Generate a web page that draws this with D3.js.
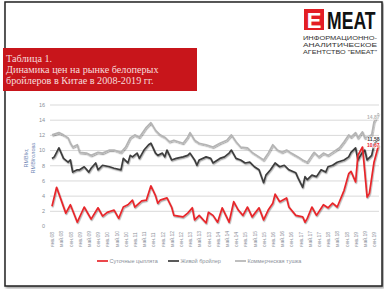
<!DOCTYPE html>
<html><head><meta charset="utf-8">
<script src="https://cdn.jsdelivr.net/npm/d3@7/dist/d3.min.js"></script>
<style>html,body{margin:0;padding:0;background:#fff;}svg{display:block;}</style>
</head><body>
<script>
// ---- data ----
const titleLines = ["Таблица 1.", "Динамика цен на рынке белоперых", "бройлеров в Китае в 2008-2019 гг."];
const seriesNames = ["Суточные цыплята", "Живой бройлер", "Коммерческая тушка"];
const yTicks = [0, 2, 4, 6, 8, 10, 12, 14, 16];
const monthNames = ["янв", "май", "сен"];
const years = ["08","09","10","11","12","13","14","15","16","17","18","19"];
const yLabel = ["RMB/кг,", "RMB/голова"];
// month index from Jan 2008
const chickMonths = [0,2,6,8,11,14,17,20,22,24,27,29,31,33,35,36,39,41,43,45,46,47,50,52,53,57,59,61,62,64,67,68,70,72,74,77,79,81,83,85,87,90,92,94,96,97,99,102,103,106,109,110,111,113,115,118,120,122,124,127,129,130,132,133,135,137,138,140,142];
const chickValues = [2.6,5.1,1.7,2.8,0.5,2.5,0.9,2.4,1.3,1.8,2.1,1.0,2.5,2.8,3.4,2.5,3.3,3.4,5.3,4.0,3.0,3.4,3.7,2.5,1.4,1.2,1.7,2.4,0.8,1.4,0.4,1.8,1.4,0.5,2.4,0.5,3.2,2.1,1.4,2.5,1.2,2.4,0.8,2.1,3.0,4.2,3.2,3.7,2.5,1.4,1.2,0.5,1.0,2.5,1.4,2.8,2.4,3.0,2.5,4.7,6.9,7.2,5.8,9.3,10.4,3.8,4.3,8.4,10.67];
const liveMonths = [0,1,3,5,7,8,9,11,12,14,16,17,19,20,22,25,27,30,31,33,34,35,37,38,40,42,43,45,46,48,49,50,52,54,57,59,60,62,63,64,67,69,70,73,75,77,78,80,82,84,86,88,90,92,93,95,97,99,101,103,106,107,109,110,111,113,115,117,119,120,122,124,127,129,130,132,133,135,136,137,139,140,142];
const liveValues = [8.9,9.1,10.3,8.9,8.4,8.7,7.1,7.4,7.4,7.8,7.1,7.6,8.3,7.4,8.0,7.8,7.6,7.4,8.9,8.3,9.3,9.1,9.6,8.9,10.0,10.7,10.9,9.6,9.3,9.6,9.1,10.0,8.7,8.9,9.1,9.3,9.6,8.7,8.0,8.7,9.1,8.9,8.3,8.9,9.1,9.6,10.0,8.9,8.7,8.3,8.4,7.8,7.4,5.7,6.7,7.4,8.3,7.8,8.0,7.4,7.0,6.3,5.1,6.5,6.1,6.7,6.5,7.4,7.1,7.8,8.0,8.4,8.7,9.1,9.7,10.3,8.7,9.7,10.0,8.7,9.3,10.7,11.58];
const carcMonths = [0,3,5,7,8,9,11,12,15,17,20,22,25,27,30,32,34,36,38,41,43,45,47,49,51,53,57,59,60,62,64,67,70,73,76,78,80,82,85,87,90,92,94,96,98,100,102,104,107,109,111,113,114,116,118,120,122,125,127,129,130,132,133,135,136,137,139,140,142];
const carcValues = [12.0,12.3,12.0,11.6,10.9,10.4,10.7,9.7,9.6,9.3,9.7,9.6,10.0,10.0,9.7,10.4,11.6,12.0,11.7,13.0,13.6,12.6,12.0,11.7,11.1,11.3,10.9,11.7,12.3,11.3,10.9,10.7,10.4,10.9,11.3,12.0,11.1,10.4,10.3,9.7,9.1,8.7,9.6,10.7,10.0,9.7,10.0,9.6,9.1,8.7,8.4,9.3,9.7,9.1,9.6,9.3,9.7,10.3,11.1,12.0,11.7,12.3,11.6,12.4,11.6,11.7,12.0,13.7,14.87];
const seriesColors = ["#e8262b", "#3d3d3d", "#b4b4b4"];

// ---- drawing ----
const W = 384, H = 289;
const svg = d3.select("body").append("svg").attr("width", W).attr("height", H);
const defs = svg.append("defs");
const f = defs.append("filter").attr("id","sh").attr("x","-5%").attr("y","-5%").attr("width","110%").attr("height","120%");
f.append("feDropShadow").attr("dx",0.6).attr("dy",1.2).attr("stdDeviation",0.7).attr("flood-color","#000").attr("flood-opacity",0.35);
const bs = defs.append("filter").attr("id","bs").attr("x","-5%").attr("y","-5%").attr("width","110%").attr("height","110%");
bs.append("feDropShadow").attr("dx",1.5).attr("dy",1.5).attr("stdDeviation",1).attr("flood-color","#000").attr("flood-opacity",0.4);

// frame
svg.append("rect").attr("x",5).attr("y",2).attr("width",377).attr("height",284)
  .attr("fill","#fff").attr("stroke","#222").attr("stroke-width",1.5).attr("filter","url(#bs)");

// title box
svg.append("rect").attr("x",3).attr("y",48).attr("width",194).attr("height",43).attr("fill","#c8151b");
svg.append("g").selectAll("text").data(titleLines).join("text")
  .attr("x",6).attr("y",(d,i)=>62+i*11)
  .attr("font-family","'Liberation Serif', 'DejaVu Serif', serif").attr("font-size",10.2)
  .attr("fill","#f6dcdc").text(d=>d);

// logo
svg.append("rect").attr("x",304).attr("y",9).attr("width",20).attr("height",21).attr("fill","#e31e24");
svg.append("text").attr("x",314).attr("y",27.5).attr("text-anchor","middle")
  .attr("font-family","'Liberation Sans', Arial, sans-serif").attr("font-weight","bold").attr("font-size",22)
  .attr("fill","#fff").text("E");
svg.append("text").attr("transform","translate(327,29) scale(1,1.4)")
  .attr("font-family","'Liberation Sans', Arial, sans-serif").attr("font-weight","bold").attr("font-size",17.6)
  .attr("fill","#111").text("MEAT");
svg.append("g").selectAll("text").data(["ИНФОРМАЦИОННО-","АНАЛИТИЧЕСКОЕ","АГЕНТСТВО \"ЕМЕАТ\""]).join("text")
  .attr("x",303).attr("y",(d,i)=>39.5+i*7.2).attr("textLength",74).attr("lengthAdjust","spacingAndGlyphs")
  .attr("font-family","'Liberation Sans', Arial, sans-serif").attr("font-size",6.2).attr("fill","#333").text(d=>d);

// scales
const x = d3.scaleLinear().domain([0, 140]).range([52, 374]);
const y = d3.scaleLinear().domain([0, 16]).range([226, 104.5]);

// grid + y labels
const yAxis = d3.axisLeft(y).tickValues(yTicks).tickSize(-(379-50)).tickPadding(5);
const gy = svg.append("g").attr("transform","translate(50,0)").call(yAxis);
gy.select(".domain").remove();
gy.selectAll(".tick line").attr("stroke",(d)=>d===0?"none":"#d9d9d9").attr("stroke-width",1);
gy.selectAll(".tick text").attr("font-family","'Liberation Sans', Arial, sans-serif").attr("font-size",5.5).attr("fill","#8a8f99");

// y title
const yt = svg.append("text").attr("transform","translate(28,158) rotate(-90)")
  .attr("text-anchor","middle").attr("font-family","'Liberation Sans', Arial, sans-serif").attr("font-size",5.5).attr("fill","#6f86b4");
yt.selectAll("tspan").data(yLabel).join("tspan").attr("x",0).attr("dy",(d,i)=>i?6.5:0).text(d=>d);

// x labels
const xLabels = [];
years.forEach((yr,i)=>monthNames.forEach((m,j)=>xLabels.push({m:i*12+j*4, t:m+"."+yr})));
const xAxis = d3.axisBottom(x).tickValues(xLabels.map(d=>d.m)).tickFormat((d,i)=>xLabels[i].t).tickSize(0);
const gx = svg.append("g").attr("transform","translate(0,229)").call(xAxis);
gx.select(".domain").remove();
gx.selectAll(".tick text")
  .attr("transform","rotate(-90)").attr("text-anchor","start")
  .attr("x",-18).attr("y",0).attr("dy","0.35em")
  .attr("font-family","'Liberation Sans', Arial, sans-serif").attr("font-size",5).attr("fill","#8a8f99");

// lines
const series = [
  {months: chickMonths, values: chickValues},
  {months: liveMonths, values: liveValues},
  {months: carcMonths, values: carcValues}
];
const line = d3.line().x(d=>x(d[0])).y(d=>y(d[1])).curve(d3.curveLinear);
[2,1,0].forEach(k=>{
  const s = series[k];
  svg.append("path").datum(s.months.map((m,i)=>[m,s.values[i]]))
    .attr("d",line).attr("fill","none").attr("stroke",seriesColors[k]).attr("stroke-width",1.7)
    .attr("stroke-linejoin","round").attr("filter","url(#sh)");
});

// end labels
const endOff = [0.5, 1, 4];
series.forEach((s,k)=>{
  const n = s.values.length-1;
  svg.append("text").attr("x", x(s.months[n])+1).attr("y", y(s.values[n])+endOff[k]+1.5)
    .attr("text-anchor","end").attr("font-family","'Liberation Sans', Arial, sans-serif")
    .attr("font-size",5).attr("font-weight","bold").attr("fill",seriesColors[k])
    .attr("stroke","#fff").attr("stroke-width",1).attr("paint-order","stroke")
    .text(s.values[n].toFixed(2).replace(".",","));
});

// legend
const legX = [97, 168, 235];
const lg = svg.append("g").selectAll("g").data(seriesNames).join("g")
  .attr("transform",(d,i)=>`translate(${legX[i]},261)`);
lg.append("line").attr("x1",0).attr("x2",11).attr("y1",0).attr("y2",0)
  .attr("stroke",(d,i)=>seriesColors[i]).attr("stroke-width",1.7);
lg.append("text").attr("x",12.5).attr("y",2).attr("font-family","'Liberation Sans', Arial, sans-serif")
  .attr("font-size",5.5).attr("fill","#8a8f99").text(d=>d);
</script>
</body></html>
